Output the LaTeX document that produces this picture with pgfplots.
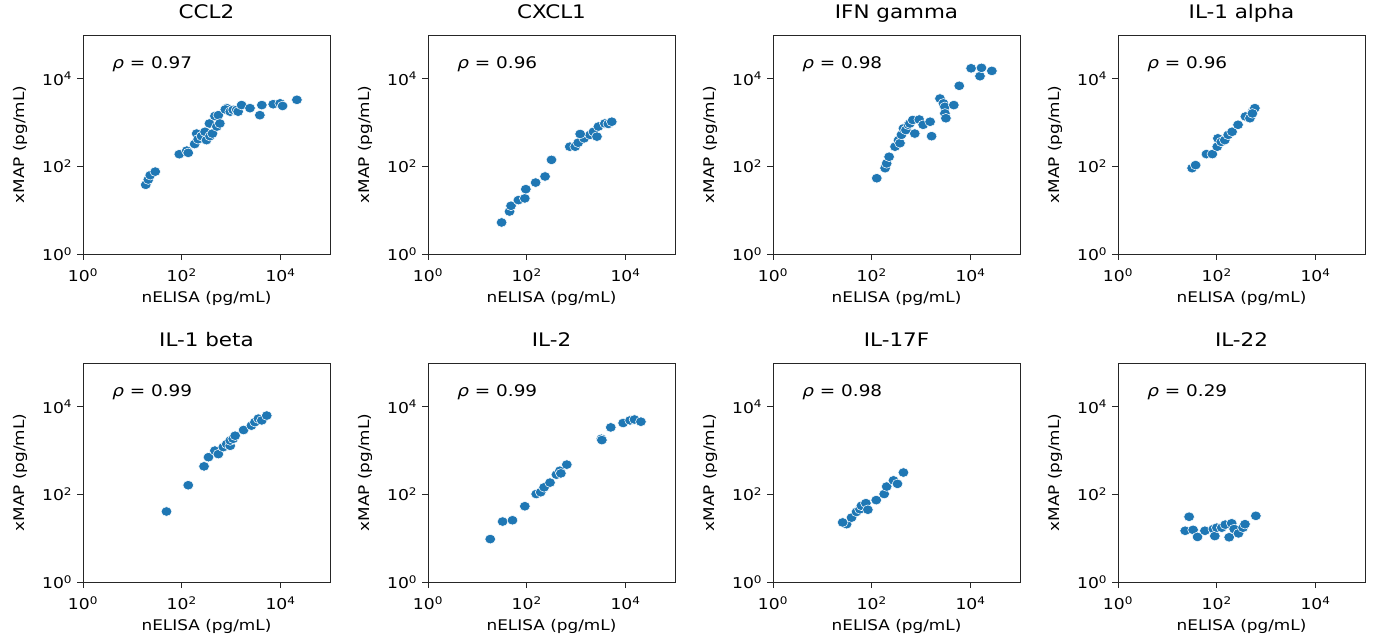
\documentclass[border=0pt]{standalone}
\usepackage{fontspec}
\setmainfont{DejaVu Sans}[FakeStretch=1.15]
\usepackage{pgfplots}
\pgfplotsset{compat=1.18}
\definecolor{tabblue}{HTML}{1F77B4}

\pgfplotsset{
  every axis/.append style={
    xmode=log, ymode=log,
    xmin=1, xmax=1e5, ymin=1, ymax=1e5,
    scale only axis, width=185.25pt, height=164.25pt,
    anchor=north west,
    axis line style={black!85, line width=0.6pt},
    xtick={1,100,10000}, ytick={1,100,10000},
    minor xtick={}, minor ytick={},
    xticklabels={10\textsuperscript{0},10\textsuperscript{2},10\textsuperscript{4}},
    yticklabels={10\textsuperscript{0},10\textsuperscript{2},10\textsuperscript{4}},
    tick align=outside, major tick length=4.5pt,
    tick style={black!85, line width=0.6pt},
    xtick pos=bottom, ytick pos=left,
    ticklabel style={font=\fontsize{11.2}{13}\selectfont},
    xticklabel style={yshift=-3pt},
    label style={font=\fontsize{11}{13}\selectfont},
    xlabel={nELISA (pg/mL)}, ylabel={xMAP (pg/mL)},
    xlabel style={at={(axis description cs:0.5,-0.222)}, anchor=base},
    ylabel style={at={(axis description cs:-0.255,0.5)}, anchor=center},
    title style={font=\fontsize{14}{16}\selectfont, at={(axis description cs:0.5,1)}, anchor=base, yshift=6.2pt},
  },
  cytopts/.style={only marks, mark=*, mark size=3.6pt,
    mark options={fill=tabblue, draw=white, line width=0.4pt, xscale=1.12}},
}
\newcommand{\rholabel}[1]{\node[anchor=west, font=\fontsize{12}{14}\selectfont] at (axis description cs:0.1,0.865) {\textit{ρ} = #1};}

\begin{document}
\begin{tikzpicture}
\path[use as bounding box] (0,0) rectangle (1030.5pt,-479.25pt);

% ---- top row ----
\begin{axis}[at={(62.25pt,-26.25pt)}, title={CCL2}]
\addplot[cytopts] table {
x y
18.6 38
21 50
23 63
29 76
89 190
126 229
135 204
182 324
200 562
214 417
251 490
316 398
295 617
372 490
363 955
417 562
513 813
468 1413
550 1479
589 955
813 2138
759 1995
955 1778
1096 1950
1288 1950
1380 1778
1622 2512
2399 2138
3802 1479
4169 2512
7079 2630
9772 2754
10965 2399
21380 3311
};
\rholabel{0.97}
\end{axis}

\begin{axis}[at={(321pt,-26.25pt)}, title={CXCL1}]
\addplot[cytopts] table {
x y
30.9 5.25
44.7 9.33
47.9 12.6
67.6 17.0
91.2 18.6
95.5 30.2
151 42.7
234 58.9
316 141
741 282
955 282
1096 347
1445 437
1905 525
2239 617
2630 479
2818 813
1202 550
3802 955
4467 933
5248 1047
};
\rholabel{0.96}
\end{axis}

\begin{axis}[at={(579.75pt,-26.25pt)}, title={IFN gamma}]
\addplot[cytopts] table {
x y
126 53.7
186 91.2
200 117
224 166
295 282
347 398
372 339
398 525
437 741
490 676
550 891
589 955
676 1148
741 562
912 1175
1096 891
1514 1047
1622 490
2399 3548
2818 2754
3020 2291
3020 1622
3162 1259
4571 2512
5888 6918
10233 17378
15488 11482
16596 17783
26915 15136
};
\rholabel{0.98}
\end{axis}

\begin{axis}[at={(838.5pt,-26.25pt)}, title={IL-1 alpha}]
\addplot[cytopts] table {
x y
31.6 91.2
37.2 107
61.7 191
81.3 191
102 282
105 437
123 363
145 398
170 525
204 617
269 891
380 1380
468 1259
537 1862
589 2138
525 1622
};
\rholabel{0.96}
\end{axis}

% ---- bottom row ----
\begin{axis}[at={(62.25pt,-272.25pt)}, title={IL-1 beta}]
\addplot[cytopts] table {
x y
49 40.7
135 162
282 437
347 708
468 1000
550 832
692 1202
813 1413
955 1288
955 1698
1096 1862
1202 2188
1778 2951
2570 3715
3020 4467
3548 5370
4169 4898
5248 6310
};
\rholabel{0.99}
\end{axis}

\begin{axis}[at={(321pt,-272.25pt)}, title={IL-2}]
\addplot[cytopts] table {
x y
18.2 9.55
32.4 24.0
51.3 25.7
91.2 53.7
155 102
191 112
224 145
295 186
398 282
468 347
490 302
646 479
3236 1862
3311 1738
5012 3388
8913 4266
12303 4898
15136 5129
20417 4571
};
\rholabel{0.99}
\end{axis}

\begin{axis}[at={(579.75pt,-272.25pt)}, title={IL-17F}]
\addplot[cytopts] table {
x y
30.9 20.9
25.7 22.9
38.9 29.5
49.0 39.8
57.5 45.7
61.7 55.0
75.9 63.1
83.2 44.7
123 74.1
178 102
200 151
275 209
331 174
437 316
};
\rholabel{0.98}
\end{axis}

\begin{axis}[at={(838.5pt,-272.25pt)}, title={IL-22}]
\addplot[cytopts] table {
x y
22.9 14.8
27.5 30.9
33.1 15.5
40.7 10.7
57.5 14.8
85.1 16.2
91.2 11.2
100 17.4
126 17.4
148 20.4
178 10.5
200 21.9
224 16.2
275 12.9
339 17.4
372 20.9
617 32.4
};
\rholabel{0.29}
\end{axis}
\end{tikzpicture}
\end{document}
